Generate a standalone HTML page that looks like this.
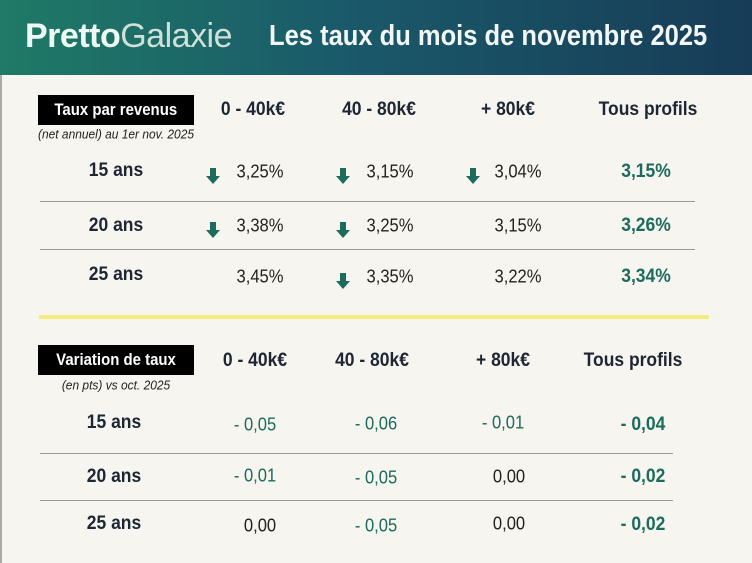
<!DOCTYPE html><html><head><style>
body{margin:0;width:752px;height:563px;overflow:hidden;background:#f6f5f0;font-family:"Liberation Sans",sans-serif;position:relative}
.hd{position:absolute;left:0;top:0;width:752px;height:75px;background:linear-gradient(90deg,#1f7a66 0%,#1a5a6a 45%,#173c57 100%)}
.t{position:absolute;white-space:nowrap;transform:translate(-50%,-50%) scaleX(.92)}
.b{font-weight:bold;color:#1e2633;font-size:19px}
.v{color:#222;font-size:18px}
.g{color:#1c6b5c;font-size:18px}
.gb{color:#1c6b5c;font-size:19px;font-weight:bold}
.box{position:absolute;left:38px;width:156px;height:30px;background:#000;color:#fff;font-weight:bold;font-size:17px;text-align:center;line-height:30px}
.box span{display:inline-block;transform:scaleX(.88);white-space:nowrap}
.sub{font-style:italic;font-size:13px;color:#222}
.ln{position:absolute;height:1px;background:#999}
.ar{position:absolute;width:0;height:0;border-left:7px solid transparent;border-right:7px solid transparent;border-top:8px solid #1c6b5c}
.ar:before{content:"";position:absolute;left:-3px;top:-16px;width:6px;height:9px;background:#1c6b5c}
</style></head><body>
<div style="position:absolute;left:0;top:0;width:2px;height:563px;background:#aaa"></div>
<div class="hd"></div>
<div style="position:absolute;left:25px;top:17px;font-size:34px;color:#eef8f3;white-space:nowrap;letter-spacing:-0.5px"><b>Pretto</b><span style="color:#cfe0d8">Galaxie</span></div>
<div style="position:absolute;left:269px;top:20px;font-size:29px;font-weight:bold;color:#f2f6f4;white-space:nowrap;transform:scaleX(.88);transform-origin:left">Les taux du mois de novembre 2025</div>

<div class="box" style="top:95px"><span>Taux par revenus</span></div>
<div class="t sub" style="left:116px;top:134px">(net annuel) au 1er nov. 2025</div>
<div class="t b" style="left:253px;top:110px">0 - 40k€</div>
<div class="t b" style="left:379px;top:110px">40 - 80k€</div>
<div class="t b" style="left:508px;top:110px">+ 80k€</div>
<div class="t b" style="left:648px;top:110px">Tous profils</div>

<div class="t b" style="left:116px;top:171px">15 ans</div>
<div class="t b" style="left:116px;top:226px">20 ans</div>
<div class="t b" style="left:116px;top:275px">25 ans</div>
<div class="ln" style="left:40px;width:655px;top:201px"></div>
<div class="ln" style="left:40px;width:655px;top:249px"></div>

<div class="ar" style="left:206px;top:176px"></div><div class="t v" style="left:260px;top:172px">3,25%</div>
<div class="ar" style="left:336px;top:176px"></div><div class="t v" style="left:390px;top:172px">3,15%</div>
<div class="ar" style="left:466px;top:176px"></div><div class="t v" style="left:518px;top:172px">3,04%</div>
<div class="t gb" style="left:646px;top:172px">3,15%</div>

<div class="ar" style="left:206px;top:230px"></div><div class="t v" style="left:260px;top:226px">3,38%</div>
<div class="ar" style="left:336px;top:230px"></div><div class="t v" style="left:390px;top:226px">3,25%</div>
<div class="t v" style="left:518px;top:226px">3,15%</div>
<div class="t gb" style="left:646px;top:226px">3,26%</div>

<div class="t v" style="left:260px;top:277px">3,45%</div>
<div class="ar" style="left:336px;top:281px"></div><div class="t v" style="left:390px;top:277px">3,35%</div>
<div class="t v" style="left:518px;top:277px">3,22%</div>
<div class="t gb" style="left:646px;top:277px">3,34%</div>

<div style="position:absolute;left:39px;top:315px;width:670px;height:4px;background:#f6ec7e"></div>

<div class="box" style="top:345px"><span>Variation de taux</span></div>
<div class="t sub" style="left:116px;top:385px">(en pts) vs oct. 2025</div>
<div class="t b" style="left:255px;top:361px">0 - 40k€</div>
<div class="t b" style="left:372px;top:361px">40 - 80k€</div>
<div class="t b" style="left:503px;top:361px">+ 80k€</div>
<div class="t b" style="left:633px;top:361px">Tous profils</div>

<div class="t b" style="left:114px;top:423px">15 ans</div>
<div class="t b" style="left:114px;top:477px">20 ans</div>
<div class="t b" style="left:114px;top:524px">25 ans</div>
<div class="ln" style="left:40px;width:633px;top:453px"></div>
<div class="ln" style="left:40px;width:633px;top:500px"></div>

<div class="t g" style="left:255px;top:425px">- 0,05</div>
<div class="t g" style="left:376px;top:424px">- 0,06</div>
<div class="t g" style="left:503px;top:423px">- 0,01</div>
<div class="t gb" style="left:643px;top:425px">- 0,04</div>

<div class="t g" style="left:255px;top:476px">- 0,01</div>
<div class="t g" style="left:376px;top:478px">- 0,05</div>
<div class="t v" style="left:509px;top:477px">0,00</div>
<div class="t gb" style="left:643px;top:477px">- 0,02</div>

<div class="t v" style="left:260px;top:526px">0,00</div>
<div class="t g" style="left:376px;top:526px">- 0,05</div>
<div class="t v" style="left:509px;top:524px">0,00</div>
<div class="t gb" style="left:643px;top:525px">- 0,02</div>
</body></html>
